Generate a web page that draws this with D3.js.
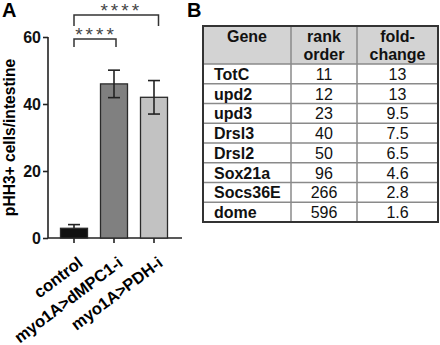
<!DOCTYPE html>
<html>
<head>
<meta charset="utf-8">
<script src="https://cdn.jsdelivr.net/npm/d3@7"></script>
<style>
  body { margin: 0; background: #fff; }
  svg { display: block; font-family: "Liberation Sans", Arial, sans-serif; }
  .axis path, .axis line { stroke: #222; stroke-width: 1.6; }
  .axis text { font-size: 16px; font-weight: bold; fill: #111; font-family: "Liberation Sans", Arial, sans-serif; }
</style>
</head>
<body>
<svg id="fig" width="440" height="345"></svg>
<script>
// ---- panel A data ----
const groups = ['control', 'myo1A>dMPC1-i', 'myo1A>PDH-i'];
const means = [2.9, 46, 42];
const errs = [1.1, 4.1, 5];
const barColors = ['#111111', '#808080', '#c2c2c2'];
const yTicks = [0, 20, 40, 60];
const sigPairs = [[0, 1], [0, 2]];
const sigLabels = ['****', '****'];

// ---- panel B data ----
const headers = [['Gene'], ['rank', 'order'], ['fold-', 'change']];
const genes = ['TotC', 'upd2', 'upd3', 'Drsl3', 'Drsl2', 'Sox21a', 'Socs36E', 'dome'];
const ranks = ['11', '12', '23', '40', '50', '96', '266', '596'];
const folds = ['13', '13', '9.5', '7.5', '6.5', '4.6', '2.8', '1.6'];

const svg = d3.select('#fig');

// ══════════════════════════════════════════════════════════════
// PANEL A – bar chart
// ══════════════════════════════════════════════════════════════
svg.append('text').attr('x', 2).attr('y', 17)
  .attr('font-size', 20).attr('font-weight', 'bold').text('A');

const x = d3.scaleBand().domain(groups).range([54, 174])
  .paddingInner(0.325).paddingOuter(0.1625);
const y = d3.scaleLinear().domain([0, 60]).range([238, 37]);

svg.append('g').attr('class', 'axis')
  .attr('transform', 'translate(48,0)')
  .call(d3.axisLeft(y).tickValues(yTicks).tickSize(5).tickPadding(2))
  .call(g => g.select('.domain').attr('d', `M0,${y(60)}V${y(0)}`));

const xAxis = svg.append('g').attr('class', 'axis')
  .attr('transform', `translate(0,${y(0)})`)
  .call(d3.axisBottom(x).tickSize(5).tickSizeOuter(0).tickFormat(''));
xAxis.select('.domain').attr('d', 'M48,0H182');

// x labels, rotated
svg.selectAll('.xlab').data(groups).enter().append('text')
  .attr('class', 'xlab')
  .attr('text-anchor', 'end')
  .attr('font-size', 16.5).attr('font-weight', 'bold')
  .attr('transform', d => `translate(${x(d) + x.bandwidth() / 2 + 10},${y(0) + 27}) rotate(-37)`)
  .text(d => d);

// y label
svg.append('text')
  .attr('transform', `translate(15,${(y(0) + y(60)) / 2}) rotate(-90)`)
  .attr('text-anchor', 'middle')
  .attr('font-size', 15.6).attr('font-weight', 'bold')
  .text('pHH3+ cells/intestine');

// bars
svg.selectAll('.bar').data(groups).enter().append('rect')
  .attr('class', 'bar')
  .attr('x', d => x(d))
  .attr('width', x.bandwidth())
  .attr('y', (d, i) => y(means[i]))
  .attr('height', (d, i) => y(0) - y(means[i]))
  .attr('fill', (d, i) => barColors[i])
  .attr('stroke', '#2a2a2a').attr('stroke-width', 1.3);

// error bars
const eb = svg.append('g');
groups.forEach((gname, i) => {
  const cx = x(gname) + x.bandwidth() / 2;
  const hi = means[i] + errs[i];
  const lo = i === 0 ? means[i] : means[i] - errs[i];
  eb.append('line').attr('x1', cx).attr('x2', cx)
    .attr('y1', y(lo)).attr('y2', y(hi))
    .attr('stroke', '#222').attr('stroke-width', 1.6);
  eb.append('line').attr('x1', cx - 6).attr('x2', cx + 6)
    .attr('y1', y(hi)).attr('y2', y(hi))
    .attr('stroke', '#222').attr('stroke-width', 1.6);
  if (i > 0) {
    eb.append('line').attr('x1', cx - 6).attr('x2', cx + 6)
      .attr('y1', y(lo)).attr('y2', y(lo))
      .attr('stroke', '#222').attr('stroke-width', 1.6);
  }
});

// significance brackets
const bracketTop = [39, 15];
const bracketLeg = [8, 11];
const bracketRightPad = [2, 4.5];
const starShift = [1, 5];
sigPairs.forEach((p, k) => {
  const x1 = x(groups[p[0]]) + x.bandwidth() / 2;
  const x2 = x(groups[p[1]]) + x.bandwidth() / 2 + bracketRightPad[k];
  const yt = bracketTop[k];
  svg.append('path')
    .attr('d', `M${x1},${yt + bracketLeg[k]}V${yt}H${x2}V${yt + bracketLeg[k]}`)
    .attr('fill', 'none').attr('stroke', '#333').attr('stroke-width', 1.5);
  svg.append('text')
    .attr('x', (x1 + x2) / 2 + starShift[k]).attr('y', yt + 2)
    .attr('text-anchor', 'middle')
    .attr('font-size', 19).attr('fill', '#444').attr('letter-spacing', 3)
    .text(sigLabels[k]);
});

// ══════════════════════════════════════════════════════════════
// PANEL B – table
// ══════════════════════════════════════════════════════════════
svg.append('text').attr('x', 187).attr('y', 17)
  .attr('font-size', 20).attr('font-weight', 'bold').text('B');

const colEdges = [203, 291, 357, 438];
const rowY = d3.scaleBand().domain(genes).range([64, 222]);
const tableTop = 26;

const tb = svg.append('g');
tb.append('rect').attr('x', colEdges[0]).attr('y', tableTop)
  .attr('width', colEdges[3] - colEdges[0]).attr('height', 64 - tableTop)
  .attr('fill', '#d3d3d3');

// inner grid
genes.forEach(g => {
  tb.append('line').attr('x1', colEdges[0]).attr('x2', colEdges[3])
    .attr('y1', rowY(g)).attr('y2', rowY(g))
    .attr('stroke', '#8a8a8a').attr('stroke-width', 1.5);
});
[1, 2].forEach(c => {
  tb.append('line').attr('x1', colEdges[c]).attr('x2', colEdges[c])
    .attr('y1', tableTop).attr('y2', 222)
    .attr('stroke', '#8a8a8a').attr('stroke-width', 1.5);
});
tb.append('rect').attr('x', colEdges[0]).attr('y', tableTop)
  .attr('width', colEdges[3] - colEdges[0]).attr('height', 222 - tableTop)
  .attr('fill', 'none').attr('stroke', '#333').attr('stroke-width', 2);

// header text
headers.forEach((lines, c) => {
  const cx = (colEdges[c] + colEdges[c + 1]) / 2;
  lines.forEach((ln, j) => {
    tb.append('text').attr('x', cx).attr('y', 42 + j * 18)
      .attr('text-anchor', 'middle').attr('font-size', 16)
      .attr('font-weight', 'bold').attr('fill', '#111')
      .text(ln);
  });
});

// body rows
genes.forEach((g, i) => {
  const yb = rowY(g) + rowY.bandwidth() / 2 + 6;
  tb.append('text').attr('x', 214).attr('y', yb)
    .attr('font-size', 16).attr('font-weight', 'bold').attr('fill', '#111')
    .text(g);
  tb.append('text').attr('x', (colEdges[1] + colEdges[2]) / 2).attr('y', yb)
    .attr('text-anchor', 'middle').attr('font-size', 16).attr('fill', '#111')
    .text(ranks[i]);
  tb.append('text').attr('x', (colEdges[2] + colEdges[3]) / 2).attr('y', yb)
    .attr('text-anchor', 'middle').attr('font-size', 16).attr('fill', '#111')
    .text(folds[i]);
});
</script>
</body>
</html>
